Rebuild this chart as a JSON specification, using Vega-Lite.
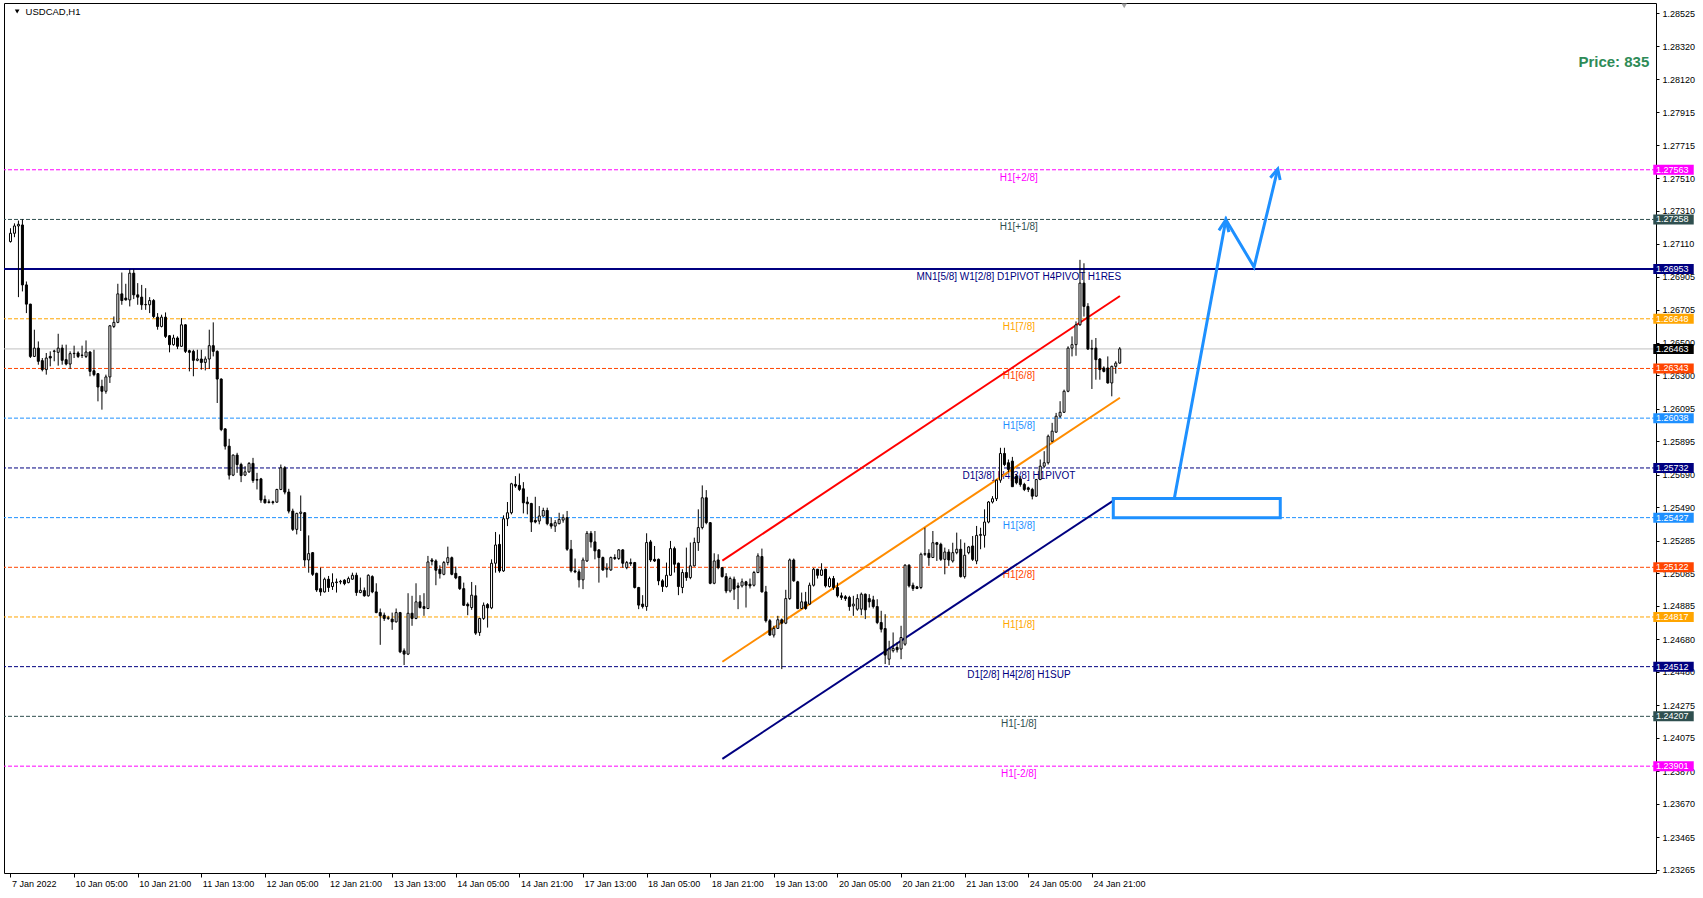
{
"$schema": "https://vega.github.io/schema/vega-lite/v6.json",
"width": 1652, "height": 870,
"autosize": {"type": "none"},
"padding": {"left": 4, "top": 3, "right": 47, "bottom": 25},
"background": "#FFFFFF",
"config": {"view": {"stroke": "#000000", "strokeWidth": 1}, "font": "Liberation Sans", "axis": {"labelOverlap": false, "labelFlush": false, "labelBound": false, "grid": false, "domain": false, "title": null}},
"datasets": {
"levels": [
{"p":1.27563,"name":"H1[+2/8]"},
{"p":1.27258,"name":"H1[+1/8]"},
{"p":1.26953,"name":"MN1[5/8] W1[2/8] D1PIVOT H4PIVOT H1RES"},
{"p":1.26648,"name":"H1[7/8]"},
{"p":1.26343,"name":"H1[6/8]"},
{"p":1.26038,"name":"H1[5/8]"},
{"p":1.25732,"name":"D1[3/8] H4[3/8] H1PIVOT"},
{"p":1.25427,"name":"H1[3/8]"},
{"p":1.25122,"name":"H1[2/8]"},
{"p":1.24817,"name":"H1[1/8]"},
{"p":1.24512,"name":"D1[2/8] H4[2/8] H1SUP"},
{"p":1.24207,"name":"H1[-1/8]"},
{"p":1.23901,"name":"H1[-2/8]"}
],
"channel": [
{"line":"upper","i":179.05,"p":1.25163},{"line":"upper","i":279.05,"p":1.26788},
{"line":"middle","i":179.05,"p":1.24542},{"line":"middle","i":279.05,"p":1.26163},
{"line":"lower","i":179.05,"p":1.23946},{"line":"lower","i":277.6,"p":1.25535}
],
"arrow": [
{"seg":"path","k":0,"i":292.68,"p":1.25538},
{"seg":"path","k":1,"i":305.7,"p":1.27256},
{"seg":"path","k":2,"i":312.78,"p":1.26966},
{"seg":"path","k":3,"i":318.75,"p":1.27568},
{"seg":"head1","k":0,"i":303.95,"p":1.27191},
{"seg":"head1","k":1,"i":305.7,"p":1.27256},
{"seg":"head1","k":2,"i":306.45,"p":1.27180},
{"seg":"head2","k":0,"i":316.875,"p":1.27514},
{"seg":"head2","k":1,"i":318.75,"p":1.27568},
{"seg":"head2","k":2,"i":319.35,"p":1.27500}
],
"box": [{"i1":277.375,"i2":319.375,"p1":1.25545,"p2":1.25427}],
"candles": [
{"i":0,"o":1.27122,"h":1.27204,"l":1.27116,"c":1.27173},
{"i":1,"o":1.27173,"h":1.27234,"l":1.27149,"c":1.27218},
{"i":2,"o":1.27218,"h":1.27251,"l":1.26781,"c":1.27228},
{"i":3,"o":1.27224,"h":1.27259,"l":1.26816,"c":1.26856},
{"i":4,"o":1.26856,"h":1.26877,"l":1.26683,"c":1.26738},
{"i":5,"o":1.26738,"h":1.26740,"l":1.26407,"c":1.26417},
{"i":6,"o":1.26417,"h":1.26581,"l":1.26413,"c":1.26468},
{"i":7,"o":1.26468,"h":1.26509,"l":1.26366,"c":1.26387},
{"i":8,"o":1.26391,"h":1.26407,"l":1.26325,"c":1.26336},
{"i":9,"o":1.26336,"h":1.26438,"l":1.26305,"c":1.26407},
{"i":10,"o":1.26417,"h":1.26448,"l":1.26356,"c":1.26407},
{"i":11,"o":1.26448,"h":1.26458,"l":1.26387,"c":1.26450},
{"i":12,"o":1.26442,"h":1.26556,"l":1.26360,"c":1.26468},
{"i":13,"o":1.26468,"h":1.26489,"l":1.26366,"c":1.26393},
{"i":14,"o":1.26397,"h":1.26489,"l":1.26362,"c":1.26370},
{"i":15,"o":1.26370,"h":1.26448,"l":1.26340,"c":1.26434},
{"i":16,"o":1.26434,"h":1.26483,"l":1.26407,"c":1.26436},
{"i":17,"o":1.26438,"h":1.26448,"l":1.26407,"c":1.26417},
{"i":18,"o":1.26423,"h":1.26483,"l":1.26407,"c":1.26425},
{"i":19,"o":1.26417,"h":1.26515,"l":1.26407,"c":1.26444},
{"i":20,"o":1.26444,"h":1.26448,"l":1.26295,"c":1.26325},
{"i":21,"o":1.26329,"h":1.26458,"l":1.26295,"c":1.26305},
{"i":22,"o":1.26311,"h":1.26315,"l":1.26141,"c":1.26229},
{"i":23,"o":1.26233,"h":1.26274,"l":1.26090,"c":1.26203},
{"i":24,"o":1.26203,"h":1.26305,"l":1.26188,"c":1.26291},
{"i":25,"o":1.26291,"h":1.26610,"l":1.26254,"c":1.26605},
{"i":26,"o":1.26601,"h":1.26662,"l":1.26591,"c":1.26626},
{"i":27,"o":1.26626,"h":1.26863,"l":1.26621,"c":1.26801},
{"i":28,"o":1.26801,"h":1.26932,"l":1.26734,"c":1.26760},
{"i":29,"o":1.26775,"h":1.26863,"l":1.26760,"c":1.26764},
{"i":30,"o":1.26764,"h":1.26952,"l":1.26724,"c":1.26928},
{"i":31,"o":1.26928,"h":1.26952,"l":1.26769,"c":1.26795},
{"i":32,"o":1.26795,"h":1.26867,"l":1.26734,"c":1.26781},
{"i":33,"o":1.26781,"h":1.26856,"l":1.26703,"c":1.26734},
{"i":34,"o":1.26734,"h":1.26836,"l":1.26703,"c":1.26736},
{"i":35,"o":1.26734,"h":1.26781,"l":1.26683,"c":1.26760},
{"i":36,"o":1.26760,"h":1.26769,"l":1.26652,"c":1.26662},
{"i":37,"o":1.26658,"h":1.26683,"l":1.26581,"c":1.26601},
{"i":38,"o":1.26601,"h":1.26673,"l":1.26595,"c":1.26658},
{"i":39,"o":1.26658,"h":1.26687,"l":1.26530,"c":1.26540},
{"i":40,"o":1.26544,"h":1.26548,"l":1.26442,"c":1.26489},
{"i":41,"o":1.26489,"h":1.26550,"l":1.26483,"c":1.26530},
{"i":42,"o":1.26530,"h":1.26540,"l":1.26462,"c":1.26479},
{"i":43,"o":1.26479,"h":1.26652,"l":1.26475,"c":1.26611},
{"i":44,"o":1.26611,"h":1.26615,"l":1.26438,"c":1.26448},
{"i":45,"o":1.26452,"h":1.26458,"l":1.26325,"c":1.26442},
{"i":46,"o":1.26448,"h":1.26458,"l":1.26295,"c":1.26393},
{"i":47,"o":1.26393,"h":1.26458,"l":1.26387,"c":1.26401},
{"i":48,"o":1.26401,"h":1.26458,"l":1.26336,"c":1.26380},
{"i":49,"o":1.26380,"h":1.26417,"l":1.26331,"c":1.26401},
{"i":50,"o":1.26401,"h":1.26581,"l":1.26340,"c":1.26483},
{"i":51,"o":1.26483,"h":1.26626,"l":1.26417,"c":1.26448},
{"i":52,"o":1.26448,"h":1.26454,"l":1.26131,"c":1.26278},
{"i":53,"o":1.26278,"h":1.26282,"l":1.25958,"c":1.25968},
{"i":54,"o":1.25972,"h":1.25976,"l":1.25845,"c":1.25866},
{"i":55,"o":1.25866,"h":1.25911,"l":1.25661,"c":1.25688},
{"i":56,"o":1.25688,"h":1.25815,"l":1.25682,"c":1.25811},
{"i":57,"o":1.25811,"h":1.25825,"l":1.25702,"c":1.25753},
{"i":58,"o":1.25753,"h":1.25764,"l":1.25645,"c":1.25686},
{"i":59,"o":1.25688,"h":1.25743,"l":1.25682,"c":1.25708},
{"i":60,"o":1.25708,"h":1.25768,"l":1.25702,"c":1.25760},
{"i":61,"o":1.25760,"h":1.25794,"l":1.25641,"c":1.25655},
{"i":62,"o":1.25657,"h":1.25702,"l":1.25600,"c":1.25661},
{"i":63,"o":1.25665,"h":1.25671,"l":1.25518,"c":1.25535},
{"i":64,"o":1.25539,"h":1.25563,"l":1.25514,"c":1.25518},
{"i":65,"o":1.25520,"h":1.25539,"l":1.25514,"c":1.25524},
{"i":66,"o":1.25524,"h":1.25531,"l":1.25508,"c":1.25520},
{"i":67,"o":1.25522,"h":1.25604,"l":1.25518,"c":1.25600},
{"i":68,"o":1.25600,"h":1.25753,"l":1.25596,"c":1.25733},
{"i":69,"o":1.25733,"h":1.25743,"l":1.25570,"c":1.25584},
{"i":70,"o":1.25584,"h":1.25604,"l":1.25453,"c":1.25467},
{"i":71,"o":1.25467,"h":1.25482,"l":1.25345,"c":1.25355},
{"i":72,"o":1.25355,"h":1.25457,"l":1.25324,"c":1.25453},
{"i":73,"o":1.25453,"h":1.25563,"l":1.25345,"c":1.25461},
{"i":74,"o":1.25457,"h":1.25461,"l":1.25126,"c":1.25167},
{"i":75,"o":1.25167,"h":1.25318,"l":1.25089,"c":1.25206},
{"i":76,"o":1.25212,"h":1.25216,"l":1.25069,"c":1.25079},
{"i":77,"o":1.25085,"h":1.25089,"l":1.24971,"c":1.24983},
{"i":78,"o":1.24991,"h":1.25120,"l":1.24947,"c":1.24971},
{"i":79,"o":1.24971,"h":1.25059,"l":1.24967,"c":1.25049},
{"i":80,"o":1.25049,"h":1.25069,"l":1.24971,"c":1.24998},
{"i":81,"o":1.25004,"h":1.25085,"l":1.24983,"c":1.25028},
{"i":82,"o":1.25028,"h":1.25053,"l":1.24967,"c":1.25032},
{"i":83,"o":1.25032,"h":1.25045,"l":1.25018,"c":1.25036},
{"i":84,"o":1.25043,"h":1.25049,"l":1.25012,"c":1.25022},
{"i":85,"o":1.25028,"h":1.25065,"l":1.25024,"c":1.25053},
{"i":86,"o":1.25049,"h":1.25089,"l":1.25045,"c":1.25073},
{"i":87,"o":1.25073,"h":1.25089,"l":1.24947,"c":1.24967},
{"i":88,"o":1.24967,"h":1.25059,"l":1.24963,"c":1.24981},
{"i":89,"o":1.24979,"h":1.24998,"l":1.24942,"c":1.24947},
{"i":90,"o":1.24947,"h":1.25079,"l":1.24942,"c":1.25073},
{"i":91,"o":1.25065,"h":1.25073,"l":1.24963,"c":1.24971},
{"i":92,"o":1.24971,"h":1.25024,"l":1.24840,"c":1.24844},
{"i":93,"o":1.24844,"h":1.24869,"l":1.24646,"c":1.24824},
{"i":94,"o":1.24828,"h":1.24844,"l":1.24793,"c":1.24808},
{"i":95,"o":1.24808,"h":1.24824,"l":1.24799,"c":1.24812},
{"i":96,"o":1.24804,"h":1.24844,"l":1.24738,"c":1.24787},
{"i":97,"o":1.24787,"h":1.24869,"l":1.24783,"c":1.24844},
{"i":98,"o":1.24844,"h":1.24848,"l":1.24595,"c":1.24603},
{"i":99,"o":1.24609,"h":1.24624,"l":1.24522,"c":1.24589},
{"i":100,"o":1.24589,"h":1.24963,"l":1.24583,"c":1.24840},
{"i":101,"o":1.24840,"h":1.24947,"l":1.24763,"c":1.24808},
{"i":102,"o":1.24808,"h":1.25024,"l":1.24803,"c":1.24910},
{"i":103,"o":1.24910,"h":1.24951,"l":1.24869,"c":1.24875},
{"i":104,"o":1.24881,"h":1.24963,"l":1.24824,"c":1.24869},
{"i":105,"o":1.24869,"h":1.25192,"l":1.24865,"c":1.25155},
{"i":106,"o":1.25167,"h":1.25179,"l":1.25134,"c":1.25159},
{"i":107,"o":1.25161,"h":1.25171,"l":1.25012,"c":1.25104},
{"i":108,"o":1.25110,"h":1.25134,"l":1.25053,"c":1.25083},
{"i":109,"o":1.25079,"h":1.25161,"l":1.25073,"c":1.25151},
{"i":110,"o":1.25151,"h":1.25249,"l":1.25134,"c":1.25181},
{"i":111,"o":1.25181,"h":1.25188,"l":1.25073,"c":1.25079},
{"i":112,"o":1.25085,"h":1.25126,"l":1.25049,"c":1.25057},
{"i":113,"o":1.25065,"h":1.25069,"l":1.24983,"c":1.24991},
{"i":114,"o":1.24991,"h":1.25028,"l":1.24885,"c":1.24889},
{"i":115,"o":1.24895,"h":1.24906,"l":1.24828,"c":1.24885},
{"i":116,"o":1.24875,"h":1.25032,"l":1.24861,"c":1.24951},
{"i":117,"o":1.24947,"h":1.25012,"l":1.24707,"c":1.24718},
{"i":118,"o":1.24722,"h":1.24812,"l":1.24701,"c":1.24808},
{"i":119,"o":1.24808,"h":1.24906,"l":1.24799,"c":1.24889},
{"i":120,"o":1.24893,"h":1.24902,"l":1.24752,"c":1.24873},
{"i":121,"o":1.24873,"h":1.25171,"l":1.24865,"c":1.25147},
{"i":122,"o":1.25147,"h":1.25339,"l":1.25089,"c":1.25259},
{"i":123,"o":1.25263,"h":1.25324,"l":1.25089,"c":1.25100},
{"i":124,"o":1.25100,"h":1.25441,"l":1.25094,"c":1.25420},
{"i":125,"o":1.25420,"h":1.25523,"l":1.25375,"c":1.25457},
{"i":126,"o":1.25457,"h":1.25641,"l":1.25447,"c":1.25635},
{"i":127,"o":1.25631,"h":1.25682,"l":1.25610,"c":1.25621},
{"i":128,"o":1.25625,"h":1.25698,"l":1.25590,"c":1.25600},
{"i":129,"o":1.25604,"h":1.25645,"l":1.25453,"c":1.25518},
{"i":130,"o":1.25523,"h":1.25555,"l":1.25447,"c":1.25512},
{"i":131,"o":1.25514,"h":1.25518,"l":1.25339,"c":1.25400},
{"i":132,"o":1.25410,"h":1.25555,"l":1.25392,"c":1.25400},
{"i":133,"o":1.25406,"h":1.25498,"l":1.25386,"c":1.25437},
{"i":134,"o":1.25437,"h":1.25488,"l":1.25433,"c":1.25471},
{"i":135,"o":1.25471,"h":1.25488,"l":1.25380,"c":1.25390},
{"i":136,"o":1.25390,"h":1.25427,"l":1.25359,"c":1.25375},
{"i":137,"o":1.25375,"h":1.25412,"l":1.25339,"c":1.25396},
{"i":138,"o":1.25390,"h":1.25457,"l":1.25386,"c":1.25416},
{"i":139,"o":1.25412,"h":1.25447,"l":1.25396,"c":1.25427},
{"i":140,"o":1.25427,"h":1.25468,"l":1.25223,"c":1.25233},
{"i":141,"o":1.25233,"h":1.25290,"l":1.25090,"c":1.25100},
{"i":142,"o":1.25100,"h":1.25176,"l":1.25086,"c":1.25094},
{"i":143,"o":1.25094,"h":1.25110,"l":1.24998,"c":1.25045},
{"i":144,"o":1.25045,"h":1.25182,"l":1.24988,"c":1.25167},
{"i":145,"o":1.25161,"h":1.25345,"l":1.25155,"c":1.25331},
{"i":146,"o":1.25331,"h":1.25345,"l":1.25243,"c":1.25278},
{"i":147,"o":1.25278,"h":1.25345,"l":1.25171,"c":1.25223},
{"i":148,"o":1.25229,"h":1.25233,"l":1.25028,"c":1.25182},
{"i":149,"o":1.25182,"h":1.25188,"l":1.25100,"c":1.25106},
{"i":150,"o":1.25110,"h":1.25147,"l":1.25059,"c":1.25116},
{"i":151,"o":1.25106,"h":1.25188,"l":1.25100,"c":1.25182},
{"i":152,"o":1.25182,"h":1.25202,"l":1.25167,"c":1.25176},
{"i":153,"o":1.25176,"h":1.25233,"l":1.25167,"c":1.25229},
{"i":154,"o":1.25229,"h":1.25233,"l":1.25120,"c":1.25147},
{"i":155,"o":1.25120,"h":1.25161,"l":1.25110,"c":1.25151},
{"i":156,"o":1.25151,"h":1.25176,"l":1.25131,"c":1.25145},
{"i":157,"o":1.25151,"h":1.25155,"l":1.24992,"c":1.24998},
{"i":158,"o":1.24998,"h":1.25002,"l":1.24865,"c":1.24890},
{"i":159,"o":1.24896,"h":1.24951,"l":1.24869,"c":1.24881},
{"i":160,"o":1.24881,"h":1.25331,"l":1.24855,"c":1.25274},
{"i":161,"o":1.25278,"h":1.25290,"l":1.25155,"c":1.25167},
{"i":162,"o":1.25171,"h":1.25253,"l":1.25155,"c":1.25161},
{"i":163,"o":1.25171,"h":1.25176,"l":1.25012,"c":1.25039},
{"i":164,"o":1.25039,"h":1.25049,"l":1.24971,"c":1.25004},
{"i":165,"o":1.25004,"h":1.25151,"l":1.24998,"c":1.25073},
{"i":166,"o":1.25073,"h":1.25284,"l":1.25069,"c":1.25237},
{"i":167,"o":1.25237,"h":1.25249,"l":1.25090,"c":1.25141},
{"i":168,"o":1.25147,"h":1.25151,"l":1.24951,"c":1.25004},
{"i":169,"o":1.24998,"h":1.25110,"l":1.24963,"c":1.25090},
{"i":170,"o":1.25090,"h":1.25243,"l":1.25039,"c":1.25059},
{"i":171,"o":1.25059,"h":1.25274,"l":1.25049,"c":1.25131},
{"i":172,"o":1.25131,"h":1.25304,"l":1.25127,"c":1.25274},
{"i":173,"o":1.25274,"h":1.25478,"l":1.25223,"c":1.25366},
{"i":174,"o":1.25366,"h":1.25625,"l":1.25355,"c":1.25549},
{"i":175,"o":1.25549,"h":1.25596,"l":1.25386,"c":1.25396},
{"i":176,"o":1.25396,"h":1.25400,"l":1.25018,"c":1.25024},
{"i":177,"o":1.25024,"h":1.25208,"l":1.25018,"c":1.25161},
{"i":178,"o":1.25167,"h":1.25202,"l":1.25110,"c":1.25120},
{"i":179,"o":1.25120,"h":1.25124,"l":1.25059,"c":1.25065},
{"i":180,"o":1.25065,"h":1.25086,"l":1.24963,"c":1.24977},
{"i":181,"o":1.24977,"h":1.25065,"l":1.24967,"c":1.25053},
{"i":182,"o":1.25049,"h":1.25065,"l":1.24922,"c":1.24988},
{"i":183,"o":1.25008,"h":1.25028,"l":1.24865,"c":1.24998},
{"i":184,"o":1.25008,"h":1.25053,"l":1.24998,"c":1.25033},
{"i":185,"o":1.25033,"h":1.25039,"l":1.24875,"c":1.25012},
{"i":186,"o":1.25018,"h":1.25053,"l":1.24992,"c":1.25008},
{"i":187,"o":1.25012,"h":1.25100,"l":1.25004,"c":1.25090},
{"i":188,"o":1.25090,"h":1.25208,"l":1.25086,"c":1.25192},
{"i":189,"o":1.25188,"h":1.25237,"l":1.24967,"c":1.24971},
{"i":190,"o":1.24971,"h":1.25008,"l":1.24783,"c":1.24794},
{"i":191,"o":1.24794,"h":1.24804,"l":1.24702,"c":1.24706},
{"i":192,"o":1.24706,"h":1.24763,"l":1.24691,"c":1.24747},
{"i":193,"o":1.24747,"h":1.24824,"l":1.24743,"c":1.24800},
{"i":194,"o":1.24800,"h":1.24808,"l":1.24497,"c":1.24779},
{"i":195,"o":1.24779,"h":1.24984,"l":1.24773,"c":1.24930},
{"i":196,"o":1.24930,"h":1.25176,"l":1.24922,"c":1.25167},
{"i":197,"o":1.25167,"h":1.25176,"l":1.25033,"c":1.25039},
{"i":198,"o":1.25033,"h":1.25039,"l":1.24865,"c":1.24869},
{"i":199,"o":1.24869,"h":1.24967,"l":1.24865,"c":1.24910},
{"i":200,"o":1.24910,"h":1.24971,"l":1.24861,"c":1.24869},
{"i":201,"o":1.24896,"h":1.25028,"l":1.24890,"c":1.25012},
{"i":202,"o":1.25012,"h":1.25118,"l":1.25004,"c":1.25110},
{"i":203,"o":1.25110,"h":1.25112,"l":1.25053,"c":1.25073},
{"i":204,"o":1.25073,"h":1.25147,"l":1.25069,"c":1.25106},
{"i":205,"o":1.25110,"h":1.25114,"l":1.24998,"c":1.25008},
{"i":206,"o":1.25004,"h":1.25065,"l":1.24998,"c":1.25053},
{"i":207,"o":1.25053,"h":1.25069,"l":1.24984,"c":1.24998},
{"i":208,"o":1.24998,"h":1.25028,"l":1.24937,"c":1.24947},
{"i":209,"o":1.24947,"h":1.24967,"l":1.24922,"c":1.24937},
{"i":210,"o":1.24941,"h":1.24951,"l":1.24916,"c":1.24930},
{"i":211,"o":1.24937,"h":1.24947,"l":1.24855,"c":1.24881},
{"i":212,"o":1.24885,"h":1.24947,"l":1.24824,"c":1.24896},
{"i":213,"o":1.24865,"h":1.24957,"l":1.24855,"c":1.24930},
{"i":214,"o":1.24865,"h":1.24967,"l":1.24828,"c":1.24957},
{"i":215,"o":1.24957,"h":1.24961,"l":1.24804,"c":1.24861},
{"i":216,"o":1.24930,"h":1.24957,"l":1.24875,"c":1.24910},
{"i":217,"o":1.24922,"h":1.24947,"l":1.24869,"c":1.24881},
{"i":218,"o":1.24881,"h":1.24926,"l":1.24773,"c":1.24783},
{"i":219,"o":1.24783,"h":1.24855,"l":1.24722,"c":1.24742},
{"i":220,"o":1.24746,"h":1.24834,"l":1.24528,"c":1.24583},
{"i":221,"o":1.24558,"h":1.24671,"l":1.24522,"c":1.24620},
{"i":222,"o":1.24610,"h":1.24722,"l":1.24599,"c":1.24624},
{"i":223,"o":1.24630,"h":1.24661,"l":1.24599,"c":1.24616},
{"i":224,"o":1.24620,"h":1.24763,"l":1.24558,"c":1.24691},
{"i":225,"o":1.24650,"h":1.25141,"l":1.24640,"c":1.25135},
{"i":226,"o":1.25135,"h":1.25141,"l":1.24998,"c":1.25008},
{"i":227,"o":1.25012,"h":1.25028,"l":1.24977,"c":1.24992},
{"i":228,"o":1.25002,"h":1.25008,"l":1.24988,"c":1.24992},
{"i":229,"o":1.24998,"h":1.25212,"l":1.24988,"c":1.25202},
{"i":230,"o":1.25202,"h":1.25365,"l":1.25192,"c":1.25206},
{"i":231,"o":1.25208,"h":1.25233,"l":1.25131,"c":1.25182},
{"i":232,"o":1.25182,"h":1.25345,"l":1.25182,"c":1.25273},
{"i":233,"o":1.25273,"h":1.25278,"l":1.25161,"c":1.25263},
{"i":234,"o":1.25263,"h":1.25273,"l":1.25161,"c":1.25171},
{"i":235,"o":1.25171,"h":1.25243,"l":1.25079,"c":1.25216},
{"i":236,"o":1.25216,"h":1.25233,"l":1.25131,"c":1.25167},
{"i":237,"o":1.25161,"h":1.25273,"l":1.25151,"c":1.25212},
{"i":238,"o":1.25212,"h":1.25335,"l":1.25202,"c":1.25233},
{"i":239,"o":1.25233,"h":1.25294,"l":1.25059,"c":1.25065},
{"i":240,"o":1.25065,"h":1.25273,"l":1.25053,"c":1.25196},
{"i":241,"o":1.25212,"h":1.25253,"l":1.25202,"c":1.25247},
{"i":242,"o":1.25253,"h":1.25314,"l":1.25161,"c":1.25171},
{"i":243,"o":1.25161,"h":1.25376,"l":1.25141,"c":1.25318},
{"i":244,"o":1.25318,"h":1.25365,"l":1.25233,"c":1.25324},
{"i":245,"o":1.25318,"h":1.25478,"l":1.25243,"c":1.25400},
{"i":246,"o":1.25400,"h":1.25529,"l":1.25392,"c":1.25523},
{"i":247,"o":1.25523,"h":1.25559,"l":1.25514,"c":1.25543},
{"i":248,"o":1.25543,"h":1.25661,"l":1.25529,"c":1.25657},
{"i":249,"o":1.25657,"h":1.25856,"l":1.25641,"c":1.25821},
{"i":250,"o":1.25821,"h":1.25856,"l":1.25743,"c":1.25753},
{"i":251,"o":1.25764,"h":1.25784,"l":1.25706,"c":1.25723},
{"i":252,"o":1.25774,"h":1.25800,"l":1.25617,"c":1.25617},
{"i":253,"o":1.25682,"h":1.25692,"l":1.25631,"c":1.25641},
{"i":254,"o":1.25665,"h":1.25682,"l":1.25617,"c":1.25631},
{"i":255,"o":1.25631,"h":1.25641,"l":1.25590,"c":1.25600},
{"i":256,"o":1.25610,"h":1.25617,"l":1.25584,"c":1.25600},
{"i":257,"o":1.25600,"h":1.25610,"l":1.25539,"c":1.25559},
{"i":258,"o":1.25559,"h":1.25665,"l":1.25555,"c":1.25661},
{"i":259,"o":1.25661,"h":1.25784,"l":1.25657,"c":1.25743},
{"i":260,"o":1.25743,"h":1.25835,"l":1.25733,"c":1.25764},
{"i":261,"o":1.25764,"h":1.25937,"l":1.25753,"c":1.25927},
{"i":262,"o":1.25896,"h":1.26009,"l":1.25890,"c":1.25958},
{"i":263,"o":1.25952,"h":1.26070,"l":1.25948,"c":1.26050},
{"i":264,"o":1.26050,"h":1.26142,"l":1.26039,"c":1.26074},
{"i":265,"o":1.26074,"h":1.26213,"l":1.26070,"c":1.26203},
{"i":266,"o":1.26203,"h":1.26479,"l":1.26197,"c":1.26468},
{"i":267,"o":1.26468,"h":1.26540,"l":1.26417,"c":1.26489},
{"i":268,"o":1.26489,"h":1.26632,"l":1.26421,"c":1.26611},
{"i":269,"o":1.26611,"h":1.27010,"l":1.26605,"c":1.26867},
{"i":270,"o":1.26867,"h":1.26989,"l":1.26662,"c":1.26724},
{"i":271,"o":1.26724,"h":1.26744,"l":1.26458,"c":1.26462},
{"i":272,"o":1.26462,"h":1.26519,"l":1.26217,"c":1.26466},
{"i":273,"o":1.26468,"h":1.26530,"l":1.26274,"c":1.26397},
{"i":274,"o":1.26401,"h":1.26407,"l":1.26274,"c":1.26336},
{"i":275,"o":1.26346,"h":1.26356,"l":1.26319,"c":1.26325},
{"i":276,"o":1.26346,"h":1.26417,"l":1.26250,"c":1.26254},
{"i":277,"o":1.26254,"h":1.26360,"l":1.26172,"c":1.26356},
{"i":278,"o":1.26356,"h":1.26387,"l":1.26311,"c":1.26376},
{"i":279,"o":1.26376,"h":1.26474,"l":1.26372,"c":1.26463}
]
},
"layer": [
{
"data": {"name": "levels"},
"transform": [{"filter": "datum.name != 'MN1[5/8] W1[2/8] D1PIVOT H4PIVOT H1RES'"}],
"mark": {"type": "rule", "strokeDash": [4, 2], "strokeWidth": 1},
"encoding": {
"y": {"field": "p", "type": "quantitative", "scale": {"domain": [1.23245, 1.28587], "nice": false, "zero": false},
 "axis": {"orient": "right", "title": null, "grid": false, "domain": false, "zindex": 0, "format": ".5f", "tickCount": 60,
  "values": [1.28525,1.28320,1.28120,1.27915,1.27715,1.27510,1.27310,1.27110,1.26905,1.26705,1.26500,1.26300,1.26095,1.25895,1.25690,1.25490,1.25285,1.25085,1.24885,1.24680,1.24480,1.24275,1.24075,1.23870,1.23670,1.23465,1.23265],
  "tickSize": 3, "tickColor": "#000000", "labelPadding": 3, "labelFont": "Liberation Sans", "labelFontSize": 9, "labelColor": "#000000",
  "labelOverlap": false, "labelFlush": false, "labelBound": false, "labelBaseline": "middle"}},
"color": {"field": "name", "type": "nominal", "legend": null,
 "scale": {"domain": ["H1[+2/8]","H1[+1/8]","MN1[5/8] W1[2/8] D1PIVOT H4PIVOT H1RES","H1[7/8]","H1[6/8]","H1[5/8]","D1[3/8] H4[3/8] H1PIVOT","H1[3/8]","H1[2/8]","H1[1/8]","D1[2/8] H4[2/8] H1SUP","H1[-1/8]","H1[-2/8]"],
  "range": ["#FF00FF","#2F4F4F","#000080","#FFA500","#FF4500","#1E90FF","#000080","#1E90FF","#FF4500","#FFA500","#000080","#2F4F4F","#FF00FF"]}}
}
},
{
"data": {"name": "levels"},
"transform": [{"filter": "datum.name == 'MN1[5/8] W1[2/8] D1PIVOT H4PIVOT H1RES'"}],
"mark": {"type": "rule", "strokeWidth": 2, "color": "#000080"},
"encoding": {"y": {"field": "p", "type": "quantitative"}}
},
{
"data": {"values": [{"p": 1.26463}]},
"mark": {"type": "rule", "strokeWidth": 1, "color": "#C0C0C0"},
"encoding": {"y": {"field": "p", "type": "quantitative"}}
},
{
"data": {"name": "levels"},
"mark": {"type": "text", "align": "center", "baseline": "middle", "dy": 8, "font": "Liberation Sans", "fontSize": 10},
"encoding": {
"x": {"datum": 253.625, "type": "quantitative", "scale": {"domain": [-0.375, 412.625], "nice": false, "zero": false},
 "axis": {"values": [0,16,32,48,64,80,96,112,128,144,160,176,192,208,224,240,256,272], "title": null, "grid": false, "domain": false, "zindex": 0, "tickCount": 60,
  "labelExpr": "['7 Jan 2022','10 Jan 05:00','10 Jan 21:00','11 Jan 13:00','12 Jan 05:00','12 Jan 21:00','13 Jan 13:00','14 Jan 05:00','14 Jan 21:00','17 Jan 13:00','18 Jan 05:00','18 Jan 21:00','19 Jan 13:00','20 Jan 05:00','20 Jan 21:00','21 Jan 13:00','24 Jan 05:00','24 Jan 21:00'][round(datum.value/16)]",
  "tickSize": 4, "tickColor": "#000000", "labelAlign": "left", "labelBaseline": "top", "labelPadding": 2, "labelOffset": 1,
  "labelFont": "Liberation Sans", "labelFontSize": 9, "labelColor": "#000000", "labelOverlap": false, "labelFlush": false, "labelBound": false}},
"y": {"field": "p", "type": "quantitative"},
"text": {"field": "name"},
"color": {"field": "name", "type": "nominal", "legend": null}
}
},
{
"data": {"name": "channel"},
"mark": {"type": "line", "strokeWidth": 2},
"encoding": {
"x": {"field": "i", "type": "quantitative"},
"y": {"field": "p", "type": "quantitative"},
"detail": {"field": "line"},
"stroke": {"field": "line", "type": "nominal", "legend": null, "scale": {"domain": ["upper","middle","lower"], "range": ["#FF0000","#FF8C00","#000080"]}}
}
},
{
"data": {"name": "box"},
"mark": {"type": "rect", "fill": null, "fillOpacity": 0, "stroke": "#1E90FF", "strokeWidth": 3},
"encoding": {
"x": {"field": "i1", "type": "quantitative"},
"x2": {"field": "i2"},
"y": {"field": "p1", "type": "quantitative"},
"y2": {"field": "p2"}
}
},
{
"data": {"name": "arrow"},
"mark": {"type": "line", "strokeWidth": 3, "color": "#1E90FF", "strokeJoin": "miter"},
"encoding": {
"x": {"field": "i", "type": "quantitative"},
"y": {"field": "p", "type": "quantitative"},
"detail": {"field": "seg"},
"order": {"field": "k"}
}
},
{
"data": {"name": "candles"},
"mark": {"type": "rule", "color": "#000000", "strokeWidth": 1},
"encoding": {
"x": {"field": "i", "type": "quantitative"},
"y": {"field": "l", "type": "quantitative"},
"y2": {"field": "h"}
}
},
{
"data": {"name": "candles"},
"mark": {"type": "bar", "width": 2, "stroke": "#000000", "strokeWidth": 1},
"encoding": {
"x": {"field": "i", "type": "quantitative"},
"y": {"field": "o", "type": "quantitative"},
"y2": {"field": "c"},
"fill": {"condition": {"test": "datum.c >= datum.o", "value": "#FFFFFF"}, "value": "#000000"}
}
},
{
"data": {"name": "levels"},
"mark": {"type": "rect", "yOffset": -5, "y2Offset": 5},
"encoding": {
"x": {"datum": 413.2, "type": "quantitative"},
"x2": {"datum": 423.375},
"y": {"field": "p", "type": "quantitative"},
"y2": {"field": "p"},
"color": {"field": "name", "type": "nominal", "legend": null}
}
},
{
"data": {"values": [{"p": 1.26463}]},
"mark": {"type": "rect", "yOffset": -5, "y2Offset": 5, "color": "#000000"},
"encoding": {
"x": {"datum": 413.2, "type": "quantitative"},
"x2": {"datum": 423.375},
"y": {"field": "p", "type": "quantitative"},
"y2": {"field": "p"}
}
},
{
"data": {"name": "levels"},
"mark": {"type": "text", "align": "left", "baseline": "middle", "font": "Liberation Sans", "fontSize": 9, "color": "#FFFFFF"},
"encoding": {
"x": {"datum": 413.875, "type": "quantitative"},
"y": {"field": "p", "type": "quantitative"},
"text": {"field": "p", "type": "quantitative", "format": ".5f"}
}
},
{
"data": {"values": [{"p": 1.26463}]},
"mark": {"type": "text", "align": "left", "baseline": "middle", "font": "Liberation Sans", "fontSize": 9, "color": "#FFFFFF"},
"encoding": {
"x": {"datum": 413.875, "type": "quantitative"},
"y": {"field": "p", "type": "quantitative"},
"text": {"field": "p", "type": "quantitative", "format": ".5f"}
}
},
{
"data": {"values": [{"t": "Price: 835"}]},
"mark": {"type": "text", "align": "right", "baseline": "middle", "font": "Liberation Sans", "fontSize": 15, "fontWeight": "bold", "color": "#2E8B57"},
"encoding": {
"x": {"datum": 412.2, "type": "quantitative"},
"y": {"datum": 1.28225, "type": "quantitative"},
"text": {"field": "t"}
}
},
{
"data": {"values": [{"t": "USDCAD,H1"}]},
"mark": {"type": "text", "align": "left", "baseline": "middle", "font": "Liberation Sans", "fontSize": 9.5, "color": "#000000"},
"encoding": {
"x": {"datum": 3.8, "type": "quantitative"},
"y": {"datum": 1.28534, "type": "quantitative"},
"text": {"field": "t"}
}
},
{
"data": {"values": [{"m": "menu"}]},
"mark": {"type": "point", "shape": "triangle-down", "filled": true, "size": 22, "color": "#000000", "opacity": 1},
"encoding": {
"x": {"datum": 1.675, "type": "quantitative"},
"y": {"datum": 1.28535, "type": "quantitative"}
}
},
{
"data": {"values": [{"m": "shift"}]},
"mark": {"type": "point", "shape": "triangle-down", "filled": true, "size": 30, "color": "#A0A0A0", "opacity": 1},
"encoding": {
"x": {"datum": 280.125, "type": "quantitative"},
"y": {"datum": 1.28570, "type": "quantitative"}
}
}
]
}
